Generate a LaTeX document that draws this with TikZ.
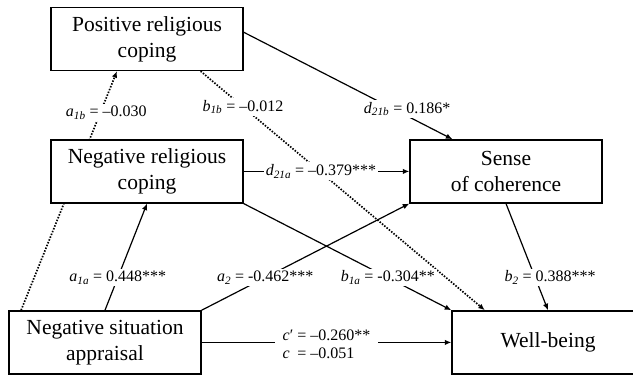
\documentclass[tikz,border=0pt]{standalone}
\usepackage{fontspec}
\setmainfont{Liberation Serif}
\usepackage{tikz}
\usetikzlibrary{arrows.meta, positioning, backgrounds}
\newcommand{\pathcoef}[2]{\textit{#1}\textsubscript{\textit{#2}}}

\begin{document}
\begin{tikzpicture}[
    varbox/.style={rectangle, draw=black, line width=1.4pt, fill=white, minimum width=192pt, minimum height=63pt, align=center, font=\fontsize{21.5}{26}\selectfont},
    arrow/.style={-{Latex[length=6.5pt,width=5.5pt]}, line width=1.2pt},
    dotarrow/.style={-{Latex[length=6.5pt,width=5.5pt]}, line width=1.7pt, dash pattern=on 1.5pt off 1.5pt},
    coef/.style={fill=white, inner sep=2pt, font=\fontsize{16}{18}\selectfont}
]
\useasboundingbox (0,0) rectangle (633pt,-377pt);

% Nodes
\node (prc) [varbox] at (147pt,-39pt) {Positive religious\\coping};
\node (nrc) [varbox, below=68pt of prc] {Negative religious\\coping};
\node (soc) [varbox, right=165.6pt of nrc] {Sense\\of coherence};
\node (nsa) [varbox, below=106.6pt of nrc, xshift=-42pt] {Negative situation\\appraisal};
\node (wb) [varbox, right=249.6pt of nsa] {Well-being};

% Dotted paths (behind the boxes)
\begin{scope}[on background layer]
\draw [dotarrow] (nsa.159) -- node[coef, pos=0.826, xshift=6pt] {\pathcoef{a}{1b} = –0.030} (prc.227);
\end{scope}
\draw [dotarrow] (prc.329) -- node[coef, pos=0.149] {\pathcoef{b}{1b} = –0.012} (wb.153);

% Arrows
\draw [arrow] (prc.4) -- node[coef, pos=0.716, xshift=14pt] {\pathcoef{d}{21b} = 0.186*} (soc.149);
\draw [arrow] (nrc) -- node[coef, pos=0.467] {\pathcoef{d}{21a} = –0.379***} (soc);
\draw [arrow] (nsa.north) -- node[coef, pos=0.306] {\pathcoef{a}{1a} = 0.448***} (nrc.south);
\draw [arrow] (nsa.north east) -- node[coef, pos=0.306] {\pathcoef{a}{2} = -0.462***} (soc.south west);
\draw [arrow] (nrc.south east) -- node[coef, pos=0.694] {\pathcoef{b}{1a} = -0.304**} (wb.north west);
\draw [arrow] (soc.south) -- node[coef, pos=0.694, xshift=15pt] {\pathcoef{b}{2} = 0.388***} (wb.north);
\draw [arrow] (nsa) -- node[coef, pos=0.5, align=left, inner xsep=8pt, yshift=-2pt] {\textit{c}′ = –0.260**\\\textit{c}\phantom{′} = –0.051} (wb);

\end{tikzpicture}
\end{document}
